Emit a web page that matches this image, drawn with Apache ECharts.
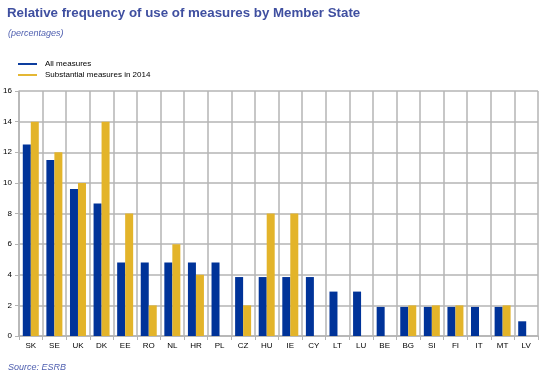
<!DOCTYPE html>
<html><head><meta charset="utf-8">
<script src="https://cdn.jsdelivr.net/npm/echarts@6/dist/echarts.min.js"></script>
<style>html,body{margin:0;padding:0;background:#fff}#c{width:547px;height:382px}</style>
</head><body><div id="c"></div>
<script>
const categories = ["SK","SE","UK","DK","EE","RO","NL","HR","PL","CZ","HU","IE","CY","LT","LU","BE","BG","SI","FI","IT","MT","LV"];
const allMeasures = [12.5,11.5,9.6,8.65,4.8,4.8,4.8,4.8,4.8,3.85,3.85,3.85,3.85,2.9,2.9,1.9,1.9,1.9,1.9,1.9,1.9,0.96];
const substantial2014 = [14,12,10,14,8,2,6,4,0,2,8,8,0,0,0,0,2,2,2,0,2,0];
const yTicks = [0,2,4,6,8,10,12,14,16];

const chart = echarts.init(document.getElementById('c'), null, {renderer:'canvas'});
const font = 'Liberation Sans, Arial, sans-serif';
const gridLine = {show:true, lineStyle:{color:'#b4b4b4', width:1.5}};
chart.setOption({
  animation:false,
  title:[
    {text:'Relative frequency of use of measures by Member State', left:2, top:2,
     textStyle:{fontFamily:font, fontSize:13.3, fontWeight:'bold', color:'#3f4fa0'}},
    {text:'(percentages)', left:3, top:24, textStyle:{fontFamily:font, fontSize:9, fontStyle:'italic', fontWeight:'normal', color:'#5060b0'}},
    {text:'Source: ESRB', left:3, top:358, textStyle:{fontFamily:font, fontSize:9, fontStyle:'italic', fontWeight:'normal', color:'#5060b0'}}
  ],
  legend:{
    orient:'vertical', left:13, top:55, itemGap:3, itemWidth:19, itemHeight:8,
    icon:'path://M0,3.5 L20,3.5 L20,5.5 L0,5.5 Z',
    textStyle:{fontFamily:font, fontSize:8, color:'#000', padding:[0,0,0,3]},
    data:['All measures','Substantial measures in 2014']
  },
  grid:{left:19, right:9, top:91, bottom:46, containLabel:false},
  xAxis:{
    type:'category', data:categories,
    axisLine:{show:true, lineStyle:{color:'#b4b4b4', width:1.5}},
    axisTick:{show:true, alignWithLabel:false, length:4, lineStyle:{color:'#b4b4b4'}},
    splitLine:{show:true, interval:0, lineStyle:{color:'#b4b4b4', width:1.5}},
    axisLabel:{fontFamily:font, fontSize:8, color:'#000', margin:6, interval:0}
  },
  yAxis:{
    type:'value', min:0, max:16, interval:2,
    axisLine:{show:true, lineStyle:{color:'#b4b4b4', width:1.5}},
    axisTick:{show:true, length:4, lineStyle:{color:'#b4b4b4'}},
    splitLine:gridLine,
    axisLabel:{fontFamily:font, fontSize:8, color:'#000', margin:7,
      formatter:v=>yTicks.includes(v)?String(v):''}
  },
  series:[
    {name:'All measures', type:'bar', data:allMeasures, barWidth:8, barGap:'0%', itemStyle:{color:'#003399'}},
    {name:'Substantial measures in 2014', type:'bar', data:substantial2014, barWidth:8, barGap:'0%', itemStyle:{color:'#e3b42a'}}
  ]
});
</script></body></html>
